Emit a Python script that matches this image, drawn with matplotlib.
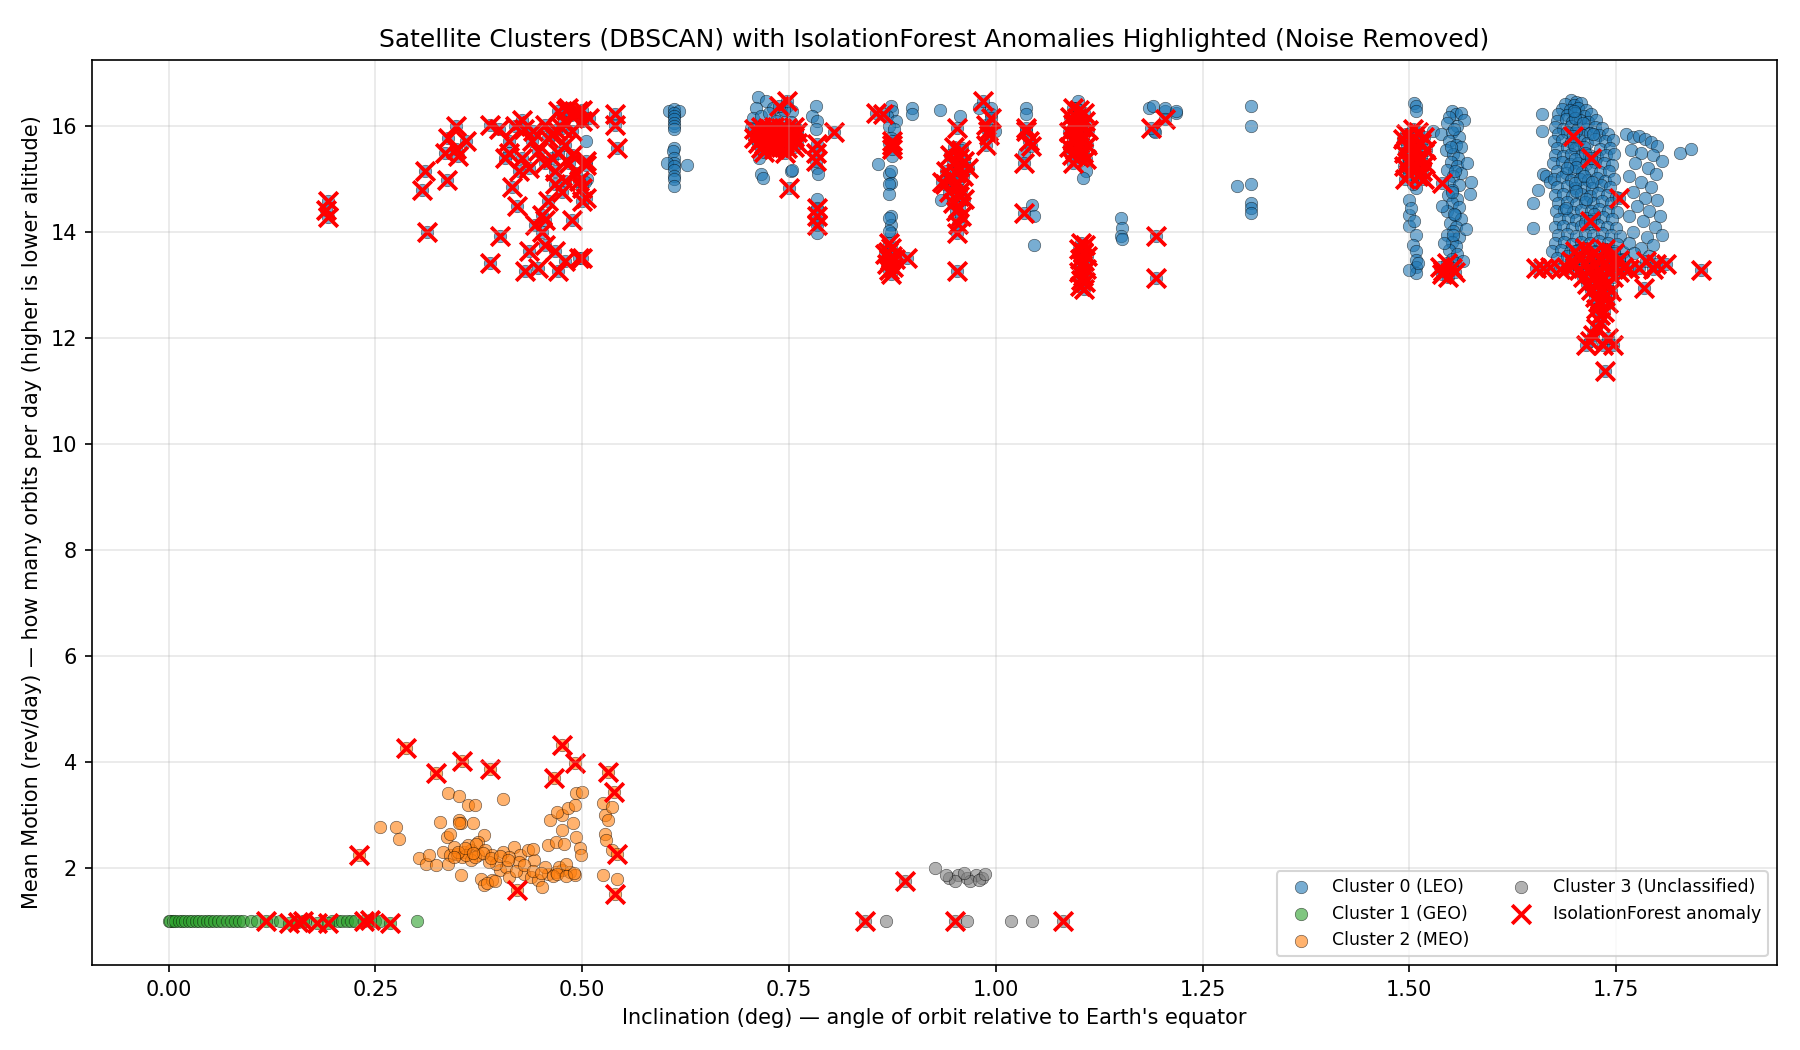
import matplotlib
matplotlib.use("Agg")
import matplotlib.pyplot as plt

# ---------------- data ----------------
leo_pts = [
    (0.505, 15.72), (0.506, 15.00), (0.503, 14.95),
    (0.605, 16.28), (0.611, 16.32), (0.617, 16.28), (0.611, 16.25), (0.611, 16.19), (0.611, 16.13),
    (0.611, 16.06), (0.611, 16.00), (0.611, 15.94), (0.611, 15.59), (0.610, 15.53), (0.611, 15.40),
    (0.611, 15.31), (0.603, 15.31), (0.627, 15.26), (0.611, 15.25), (0.611, 15.18), (0.611, 15.06),
    (0.611, 15.00), (0.611, 14.87),
    (0.712, 16.54), (0.722, 16.47), (0.710, 16.35), (0.730, 16.35), (0.748, 16.38), (0.754, 16.29),
    (0.706, 16.16), (0.716, 16.19), (0.740, 16.16), (0.752, 16.07), (0.704, 15.97), (0.714, 15.40),
    (0.716, 15.09), (0.718, 15.02), (0.752, 15.15), (0.754, 15.18), (0.726, 16.25), (0.734, 16.10),
    (0.744, 16.30), (0.760, 15.95),
    (0.782, 16.38), (0.778, 16.19), (0.784, 16.10), (0.782, 15.94), (0.784, 15.21), (0.784, 14.62),
    (0.784, 14.43), (0.784, 13.99), (0.784, 14.21), (0.785, 15.10),
    (0.873, 16.38), (0.875, 16.29), (0.869, 16.19), (0.879, 16.10), (0.871, 16.00), (0.877, 15.94),
    (0.873, 15.78), (0.875, 15.43), (0.857, 15.28), (0.871, 15.09), (0.873, 14.93), (0.871, 14.90),
    (0.871, 14.71), (0.873, 14.30), (0.873, 14.14), (0.873, 13.99), (0.871, 14.27), (0.871, 14.02),
    (0.873, 15.15), (0.871, 15.68),
    (0.899, 16.35), (0.899, 16.22), (0.933, 16.31), (0.957, 16.19), (0.934, 14.61), (0.959, 15.59),
    (0.980, 16.35), (0.994, 16.35), (0.999, 15.91), (0.994, 16.22),
    (1.036, 16.35), (1.036, 16.22), (1.034, 15.50), (1.044, 14.52), (1.046, 14.30), (1.046, 13.76),
    (1.099, 16.47), (1.097, 16.35), (1.109, 15.15), (1.105, 15.02),
    (1.151, 14.27), (1.153, 14.08), (1.151, 13.92), (1.153, 13.86),
    (1.185, 16.35), (1.190, 16.38), (1.204, 16.28), (1.218, 16.25), (1.191, 15.90), (1.192, 15.88),
    (1.204, 16.35), (1.218, 16.29),
    (1.309, 16.38), (1.309, 16.00), (1.291, 14.87), (1.309, 14.90), (1.309, 14.55), (1.309, 14.46),
    (1.309, 14.36),
    (1.506, 16.44), (1.508, 16.38), (1.508, 16.28), (1.508, 14.83), (1.500, 14.61), (1.500, 14.33),
    (1.500, 14.11), (1.508, 13.95), (1.504, 13.76), (1.508, 13.64), (1.508, 13.48), (1.508, 13.35),
    (1.508, 13.23), (1.500, 13.29), (1.502, 14.45), (1.506, 14.20), (1.510, 13.42), (1.504, 14.90),
    (1.551, 16.28), (1.556, 16.22), (1.562, 16.25), (1.548, 16.18), (1.566, 16.12), (1.545, 16.05),
    (1.558, 16.00), (1.528, 15.90), (1.538, 15.85), (1.552, 15.88), (1.560, 15.80), (1.548, 15.72),
    (1.556, 15.65), (1.562, 15.60), (1.544, 15.55), (1.553, 15.48), (1.559, 15.40), (1.550, 15.32),
    (1.557, 15.25), (1.546, 15.18), (1.562, 15.12), (1.575, 14.95), (1.553, 15.05), (1.548, 14.95),
    (1.560, 14.88), (1.573, 14.71), (1.552, 14.80), (1.547, 14.70), (1.558, 14.62), (1.551, 14.55),
    (1.560, 14.48), (1.545, 14.40), (1.555, 14.32), (1.562, 14.25), (1.549, 14.18), (1.556, 14.10),
    (1.553, 14.02), (1.545, 13.95), (1.560, 13.90), (1.551, 13.82), (1.556, 13.74), (1.548, 13.66),
    (1.558, 13.58), (1.552, 13.50), (1.555, 13.42), (1.565, 13.45), (1.540, 14.50), (1.542, 13.80),
    (1.568, 14.05), (1.570, 15.30),
    (1.554, 15.95), (1.550, 15.60), (1.555, 15.15), (1.552, 14.75), (1.554, 14.35), (1.553, 13.95),
    (1.660, 16.22), (1.660, 15.90), (1.650, 14.55), (1.650, 14.08), (1.662, 15.09), (1.665, 15.05),
    (1.655, 14.80), (1.670, 14.95), (1.827, 15.50), (1.841, 15.56),
    (1.695, 16.50), (1.702, 16.46),
    (1.688, 16.42), (1.699, 16.40), (1.708, 16.44),
    (1.684, 16.33), (1.694, 16.30), (1.704, 16.35), (1.714, 16.31),
    (1.680, 16.22), (1.690, 16.20), (1.700, 16.24), (1.711, 16.19), (1.720, 16.23),
    (1.678, 16.10), (1.689, 16.13), (1.697, 16.08), (1.706, 16.11), (1.716, 16.07), (1.726, 16.12),
    (1.676, 15.98), (1.686, 15.95), (1.695, 16.00), (1.704, 15.97), (1.713, 15.94), (1.724, 15.99),
    (1.733, 15.96),
    (1.680, 15.85), (1.690, 15.88), (1.709, 15.83), (1.718, 15.87), (1.729, 15.84), (1.740, 15.86),
    (1.675, 15.72), (1.685, 15.74), (1.695, 15.70), (1.705, 15.73), (1.715, 15.69), (1.725, 15.75),
    (1.736, 15.71), (1.746, 15.74),
    (1.679, 15.58), (1.690, 15.61), (1.700, 15.56), (1.711, 15.60), (1.731, 15.57), (1.742, 15.59),
    (1.676, 15.45), (1.686, 15.43), (1.696, 15.47), (1.707, 15.44), (1.717, 15.46), (1.727, 15.42),
    (1.738, 15.45), (1.748, 15.48),
    (1.674, 15.30), (1.684, 15.32), (1.694, 15.28), (1.704, 15.31), (1.714, 15.29), (1.724, 15.33),
    (1.735, 15.30), (1.745, 15.27),
    (1.678, 15.15), (1.689, 15.12), (1.699, 15.16), (1.709, 15.14), (1.720, 15.17), (1.730, 15.13),
    (1.741, 15.15),
    (1.675, 15.00), (1.685, 15.03), (1.695, 14.98), (1.706, 15.01), (1.716, 14.99), (1.727, 15.02),
    (1.737, 14.97), (1.748, 15.00),
    (1.679, 14.85), (1.690, 14.87), (1.700, 14.83), (1.711, 14.86), (1.721, 14.84), (1.732, 14.88),
    (1.743, 14.85),
    (1.676, 14.70), (1.686, 14.72), (1.697, 14.68), (1.707, 14.71), (1.718, 14.69), (1.728, 14.73),
    (1.739, 14.70), (1.750, 14.67),
    (1.680, 14.55), (1.691, 14.57), (1.701, 14.53), (1.712, 14.56), (1.722, 14.54), (1.733, 14.58),
    (1.744, 14.55),
    (1.677, 14.40), (1.687, 14.42), (1.698, 14.38), (1.708, 14.41), (1.719, 14.39), (1.729, 14.43),
    (1.740, 14.40), (1.751, 14.37),
    (1.681, 14.25), (1.692, 14.27), (1.702, 14.23), (1.713, 14.26), (1.723, 14.24), (1.734, 14.28),
    (1.745, 14.25),
    (1.676, 14.10), (1.686, 14.12), (1.697, 14.08), (1.707, 14.11), (1.718, 14.09), (1.728, 14.13),
    (1.739, 14.10), (1.750, 14.07),
    (1.680, 13.95), (1.691, 13.97), (1.701, 13.93), (1.712, 13.96), (1.722, 13.94), (1.733, 13.98),
    (1.744, 13.95), (1.755, 13.92),
    (1.676, 13.80), (1.687, 13.82), (1.697, 13.78), (1.708, 13.81), (1.718, 13.79), (1.729, 13.83),
    (1.740, 13.80), (1.751, 13.77),
    (1.672, 13.65), (1.683, 13.67), (1.694, 13.63), (1.704, 13.66), (1.725, 13.64), (1.736, 13.68),
    (1.747, 13.65), (1.758, 13.62),
    (1.679, 13.52), (1.690, 13.54), (1.731, 13.50), (1.742, 13.53), (1.753, 13.49),
    (1.700, 16.15), (1.701, 15.90), (1.699, 15.65), (1.700, 15.38), (1.701, 15.22), (1.700, 14.92),
    (1.702, 14.78), (1.699, 16.28), (1.710, 16.05), (1.712, 15.50), (1.711, 15.05), (1.713, 14.62),
    (1.712, 14.18), (1.690, 15.20), (1.689, 14.45), (1.722, 15.85), (1.721, 14.95), (1.723, 14.35),
    (1.762, 15.85), (1.770, 15.80), (1.778, 15.82), (1.785, 15.75), (1.792, 15.70), (1.800, 15.62),
    (1.768, 15.55), (1.780, 15.50), (1.795, 15.45), (1.805, 15.35), (1.773, 15.30), (1.788, 15.20),
    (1.798, 15.10), (1.765, 15.05), (1.780, 14.95), (1.792, 14.85), (1.770, 14.75), (1.785, 14.65),
    (1.800, 14.60), (1.775, 14.50), (1.790, 14.40), (1.765, 14.30), (1.782, 14.20), (1.797, 14.10),
    (1.770, 14.00), (1.787, 13.90), (1.765, 13.80), (1.780, 13.70), (1.795, 13.75), (1.772, 13.60),
    (1.760, 13.50), (1.790, 13.55), (1.803, 14.30), (1.806, 13.95),
]

leo_anom_pts = [
    (0.192, 14.58), (0.190, 14.42), (0.192, 14.28),
    (0.347, 16.00), (0.338, 15.78), (0.359, 15.71), (0.347, 15.56), (0.334, 15.49), (0.350, 15.43),
    (0.310, 15.15), (0.336, 14.99), (0.306, 14.80), (0.312, 14.01), (0.389, 16.03), (0.399, 15.94),
    (0.427, 16.12), (0.411, 15.71), (0.411, 15.49), (0.427, 15.40), (0.435, 15.21), (0.415, 14.86),
    (0.421, 14.49), (0.401, 13.92), (0.389, 13.42), (0.439, 15.71), (0.455, 16.03), (0.463, 15.84),
    (0.471, 16.28), (0.483, 16.35), (0.492, 16.22), (0.500, 16.31), (0.508, 16.16), (0.479, 15.65),
    (0.488, 15.46), (0.504, 15.27), (0.467, 15.15), (0.479, 14.96), (0.500, 14.83), (0.504, 14.64),
    (0.459, 14.58), (0.488, 14.23), (0.455, 14.23), (0.451, 14.01), (0.455, 13.76), (0.435, 13.64),
    (0.467, 13.64), (0.496, 13.51), (0.431, 13.26), (0.447, 13.32), (0.471, 13.26), (0.540, 16.22),
    (0.540, 16.03), (0.542, 15.59), (0.423, 15.15), (0.447, 15.53), (0.407, 15.40), (0.463, 15.40),
    (0.475, 15.97), (0.488, 15.91), (0.496, 14.96), (0.467, 14.90), (0.451, 14.33), (0.443, 14.14),
    (0.479, 13.45), (0.486, 16.20), (0.478, 16.10), (0.495, 16.28), (0.468, 15.92), (0.459, 15.78),
    (0.471, 15.50), (0.484, 15.30), (0.455, 15.30), (0.492, 15.12), (0.475, 14.75), (0.429, 15.95),
    (0.419, 16.00), (0.440, 15.90), (0.500, 16.10), (0.480, 16.30), (0.504, 15.34), (0.500, 14.58),
    (0.500, 13.51),
    (0.738, 16.38), (0.748, 16.47), (0.750, 14.84),
    (0.708, 15.95), (0.716, 15.98), (0.724, 15.96), (0.732, 15.99), (0.740, 15.97), (0.748, 15.96),
    (0.756, 15.98), (0.712, 15.88), (0.720, 15.86), (0.728, 15.89), (0.736, 15.87), (0.744, 15.88),
    (0.752, 15.86), (0.760, 15.88), (0.708, 15.78), (0.716, 15.76), (0.724, 15.79), (0.732, 15.77),
    (0.740, 15.78), (0.748, 15.76), (0.756, 15.79), (0.712, 15.68), (0.720, 15.66), (0.728, 15.69),
    (0.736, 15.67), (0.744, 15.68), (0.752, 15.66), (0.760, 15.69), (0.716, 15.58), (0.724, 15.60),
    (0.732, 15.57), (0.740, 15.60), (0.748, 15.58), (0.756, 15.60), (0.720, 15.52), (0.745, 15.50),
    (0.784, 15.66), (0.782, 15.50), (0.783, 15.34), (0.804, 15.88), (0.784, 14.46), (0.784, 14.30),
    (0.784, 14.14),
    (0.855, 16.25), (0.863, 16.22), (0.875, 15.72), (0.875, 15.56), (0.875, 15.65), (0.871, 13.80),
    (0.873, 13.70), (0.870, 13.62), (0.875, 13.55), (0.872, 13.47), (0.869, 13.40), (0.876, 13.35),
    (0.871, 13.28), (0.873, 13.20), (0.878, 13.50), (0.866, 13.58), (0.893, 13.52),
    (0.953, 15.97), (0.953, 13.99), (0.954, 14.15), (0.953, 13.26),
    (0.950, 15.60), (0.958, 15.55), (0.945, 15.45), (0.955, 15.40), (0.962, 15.35), (0.948, 15.30),
    (0.956, 15.22), (0.940, 15.15), (0.952, 15.12), (0.960, 15.05), (0.945, 15.00), (0.953, 14.95),
    (0.938, 14.90), (0.950, 14.85), (0.958, 14.80), (0.943, 14.75), (0.955, 14.68), (0.962, 14.62),
    (0.948, 14.55), (0.956, 14.48), (0.952, 14.40), (0.958, 14.30), (0.935, 14.95), (0.966, 15.20),
    (0.984, 16.47), (0.988, 16.03), (0.992, 15.84), (0.988, 15.65), (0.994, 16.16), (0.990, 15.91),
    (1.036, 15.91), (1.040, 15.72), (1.034, 15.31), (1.034, 14.36), (1.042, 15.62), (1.036, 15.97),
    (1.093, 16.35), (1.100, 16.30), (1.107, 16.25), (1.090, 16.18), (1.098, 16.15), (1.108, 16.10),
    (1.094, 16.02), (1.103, 15.98), (1.111, 15.92), (1.089, 15.88), (1.097, 15.83), (1.106, 15.80),
    (1.093, 15.72), (1.101, 15.68), (1.110, 15.65), (1.088, 15.60), (1.096, 15.55), (1.105, 15.50),
    (1.092, 15.45), (1.100, 15.42), (1.109, 15.38), (1.093, 15.30), (1.101, 15.60), (1.096, 15.95),
    (1.103, 13.80), (1.108, 13.75), (1.100, 13.68), (1.106, 13.62), (1.110, 13.55), (1.102, 13.50),
    (1.107, 13.45), (1.104, 13.38), (1.109, 13.30), (1.101, 13.25), (1.106, 13.18), (1.103, 13.10),
    (1.108, 13.05), (1.102, 12.98), (1.107, 12.92), (1.105, 13.60),
    (1.188, 15.97), (1.205, 16.13), (1.194, 13.92), (1.194, 13.13),
    (1.504, 15.94), (1.496, 15.85), (1.510, 15.88), (1.518, 15.80), (1.492, 15.75), (1.502, 15.72),
    (1.514, 15.68), (1.497, 15.62), (1.508, 15.58), (1.520, 15.55), (1.494, 15.50), (1.504, 15.46),
    (1.514, 15.42), (1.499, 15.36), (1.510, 15.32), (1.519, 15.28), (1.494, 15.24), (1.505, 15.20),
    (1.515, 15.15), (1.500, 15.10), (1.510, 15.05), (1.518, 15.00), (1.495, 15.00), (1.506, 15.78),
    (1.500, 15.30),
    (1.539, 14.93),
    (1.541, 13.26), (1.545, 13.42), (1.551, 13.32), (1.537, 13.35), (1.547, 13.16), (1.555, 13.25),
    (1.540, 13.20),
    (1.698, 15.81), (1.720, 15.40), (1.754, 14.64), (1.718, 14.20),
    (1.700, 13.65), (1.712, 13.70), (1.724, 13.62), (1.736, 13.68), (1.748, 13.60), (1.706, 13.52),
    (1.718, 13.55), (1.730, 13.50), (1.742, 13.53), (1.754, 13.48), (1.700, 13.40), (1.712, 13.42),
    (1.724, 13.38), (1.736, 13.41), (1.748, 13.37), (1.758, 13.35), (1.705, 13.28), (1.717, 13.30),
    (1.729, 13.25), (1.741, 13.28), (1.753, 13.24), (1.710, 13.15), (1.722, 13.17), (1.734, 13.12),
    (1.746, 13.15), (1.715, 13.02), (1.727, 13.05), (1.739, 13.00), (1.720, 12.90), (1.732, 12.92),
    (1.744, 12.88), (1.724, 12.78), (1.736, 12.80), (1.728, 12.68), (1.740, 12.66), (1.726, 12.55),
    (1.735, 12.50), (1.730, 12.44), (1.726, 12.19), (1.722, 12.06), (1.714, 11.87), (1.734, 11.87),
    (1.746, 11.87), (1.736, 11.37), (1.730, 12.30), (1.718, 11.95), (1.740, 12.00),
    (1.653, 13.32), (1.661, 13.32), (1.670, 13.35), (1.682, 13.30), (1.690, 13.32), (1.695, 13.45),
    (1.765, 13.30), (1.778, 13.32), (1.786, 13.45), (1.795, 13.30), (1.798, 13.39), (1.810, 13.39),
    (1.784, 12.95), (1.853, 13.29),
]

geo_pts = [
    (0.000, 1.00), (0.002, 1.00), (0.005, 1.00), (0.008, 0.99), (0.012, 1.00), (0.016, 1.00),
    (0.020, 1.00), (0.024, 0.99), (0.028, 1.00), (0.033, 1.00), (0.037, 1.00), (0.042, 0.99),
    (0.046, 1.00), (0.050, 1.00), (0.055, 1.00), (0.060, 0.99), (0.065, 1.00), (0.070, 1.00),
    (0.075, 1.00), (0.080, 0.99), (0.085, 1.00), (0.090, 1.00), (0.100, 1.00), (0.107, 1.00),
    (0.125, 0.99), (0.135, 1.00), (0.165, 1.00), (0.198, 0.99), (0.205, 1.00), (0.210, 1.00),
    (0.215, 0.99), (0.220, 1.00), (0.225, 1.00), (0.250, 0.99), (0.256, 1.00), (0.300, 1.00),
]
geo_anom_pts = [
    (0.118, 1.00), (0.146, 0.96), (0.156, 0.98), (0.162, 1.00), (0.179, 0.97),
    (0.193, 0.97), (0.236, 1.00), (0.243, 1.02), (0.268, 0.97),
]

meo_pts = [
    (0.256, 2.77), (0.275, 2.78), (0.279, 2.54), (0.338, 3.41), (0.351, 3.35), (0.362, 3.19),
    (0.370, 3.19), (0.404, 3.30), (0.328, 2.87), (0.351, 2.91), (0.353, 2.85), (0.368, 2.85),
    (0.336, 2.59), (0.340, 2.65), (0.381, 2.62), (0.374, 2.49), (0.302, 2.18), (0.311, 2.08),
    (0.323, 2.05), (0.315, 2.24), (0.332, 2.30), (0.340, 2.24), (0.349, 2.27), (0.357, 2.30),
    (0.366, 2.34), (0.374, 2.24), (0.345, 2.40), (0.362, 2.43), (0.372, 2.46), (0.383, 2.34),
    (0.391, 2.24), (0.404, 2.30), (0.417, 2.40), (0.425, 2.24), (0.412, 2.21), (0.353, 1.86),
    (0.338, 2.08), (0.377, 1.80), (0.381, 1.67), (0.391, 1.77), (0.400, 1.96), (0.408, 2.02),
    (0.412, 1.83), (0.429, 1.89), (0.438, 1.83), (0.446, 1.77), (0.451, 1.64), (0.459, 1.89),
    (0.468, 1.92), (0.476, 1.96), (0.485, 1.92), (0.491, 1.86), (0.442, 2.15), (0.434, 2.34),
    (0.440, 2.35), (0.459, 2.43), (0.468, 2.49), (0.461, 2.91), (0.476, 3.00), (0.470, 3.06),
    (0.483, 3.13), (0.491, 3.19), (0.493, 3.41), (0.500, 3.44), (0.489, 2.84), (0.476, 2.72),
    (0.478, 2.46), (0.493, 2.59), (0.497, 2.37), (0.499, 2.24), (0.525, 3.22), (0.527, 3.00),
    (0.531, 2.91), (0.527, 2.65), (0.529, 2.53), (0.536, 3.16), (0.525, 1.86), (0.542, 1.80),
    (0.536, 2.34), (0.423, 2.11), (0.396, 2.08), (0.455, 2.02), (0.472, 2.02), (0.480, 2.08),
    (0.351, 2.84), (0.355, 2.20), (0.365, 2.15), (0.387, 2.12), (0.420, 1.95), (0.465, 1.85),
    (0.360, 2.25), (0.370, 2.20), (0.380, 2.28), (0.390, 2.18), (0.400, 2.22), (0.410, 2.15),
    (0.430, 2.05), (0.440, 1.95), (0.450, 1.90), (0.470, 1.88), (0.480, 1.85), (0.490, 1.90),
    (0.385, 1.72), (0.395, 1.75), (0.350, 2.30), (0.345, 2.20), (0.358, 2.38), (0.368, 2.28),
]
meo_anom_pts = [
    (0.287, 4.27), (0.323, 3.79), (0.354, 4.01), (0.388, 3.87), (0.230, 2.25), (0.476, 4.33),
    (0.491, 3.98), (0.466, 3.70), (0.531, 3.81), (0.538, 3.44), (0.542, 2.27), (0.540, 1.51),
    (0.421, 1.58),
]

unc_pts = [
    (0.927, 2.00), (0.943, 1.82), (0.954, 1.86), (0.965, 1.82), (0.976, 1.86), (0.983, 1.82),
    (0.951, 1.76), (0.969, 1.76), (0.980, 1.77), (0.940, 1.86), (0.962, 1.90), (0.987, 1.88),
    (0.867, 1.00), (0.965, 1.00), (1.018, 1.00), (1.044, 1.00),
]
unc_anom_pts = [(0.842, 1.00), (0.890, 1.75), (0.951, 1.00), (1.081, 1.00)]

cluster_labels = ["Cluster 0 (LEO)", "Cluster 1 (GEO)", "Cluster 2 (MEO)", "Cluster 3 (Unclassified)"]
cluster_colors = ["tab:blue", "tab:green", "tab:orange", "gray"]
anomaly_label = "IsolationForest anomaly"

title = "Satellite Clusters (DBSCAN) with IsolationForest Anomalies Highlighted (Noise Removed)"
xlabel = "Inclination (deg) — angle of orbit relative to Earth's equator"
ylabel = "Mean Motion (rev/day) — how many orbits per day (higher is lower altitude)"

# ---------------- plotting ----------------
fig, ax = plt.subplots(figsize=(12, 7), dpi=150)

groups = [(leo_pts, leo_anom_pts), (geo_pts, geo_anom_pts),
          (meo_pts, meo_anom_pts), (unc_pts, unc_anom_pts)]
for (normal, anom), lab, col in zip(groups, cluster_labels, cluster_colors):
    pts = normal + anom
    xs = [p[0] for p in pts]
    ys = [p[1] for p in pts]
    ax.scatter(xs, ys, s=36, c=col, alpha=0.6, edgecolors="black", linewidths=0.3, label=lab)

all_anom = leo_anom_pts + geo_anom_pts + meo_anom_pts + unc_anom_pts
ax.scatter([p[0] for p in all_anom], [p[1] for p in all_anom], marker="x", s=80,
           c="red", linewidths=1.8, label=anomaly_label)

ax.set_xlim(-0.093, 1.944)
ax.set_ylim(0.17, 17.25)
ax.set_title(title)
ax.set_xlabel(xlabel)
ax.set_ylabel(ylabel)
ax.grid(True, alpha=0.3)
ax.legend(loc="lower right", ncol=2, fontsize="small")
fig.subplots_adjust(left=0.051, right=0.987, top=0.943, bottom=0.081)
fig.savefig("out.png", dpi=150)
